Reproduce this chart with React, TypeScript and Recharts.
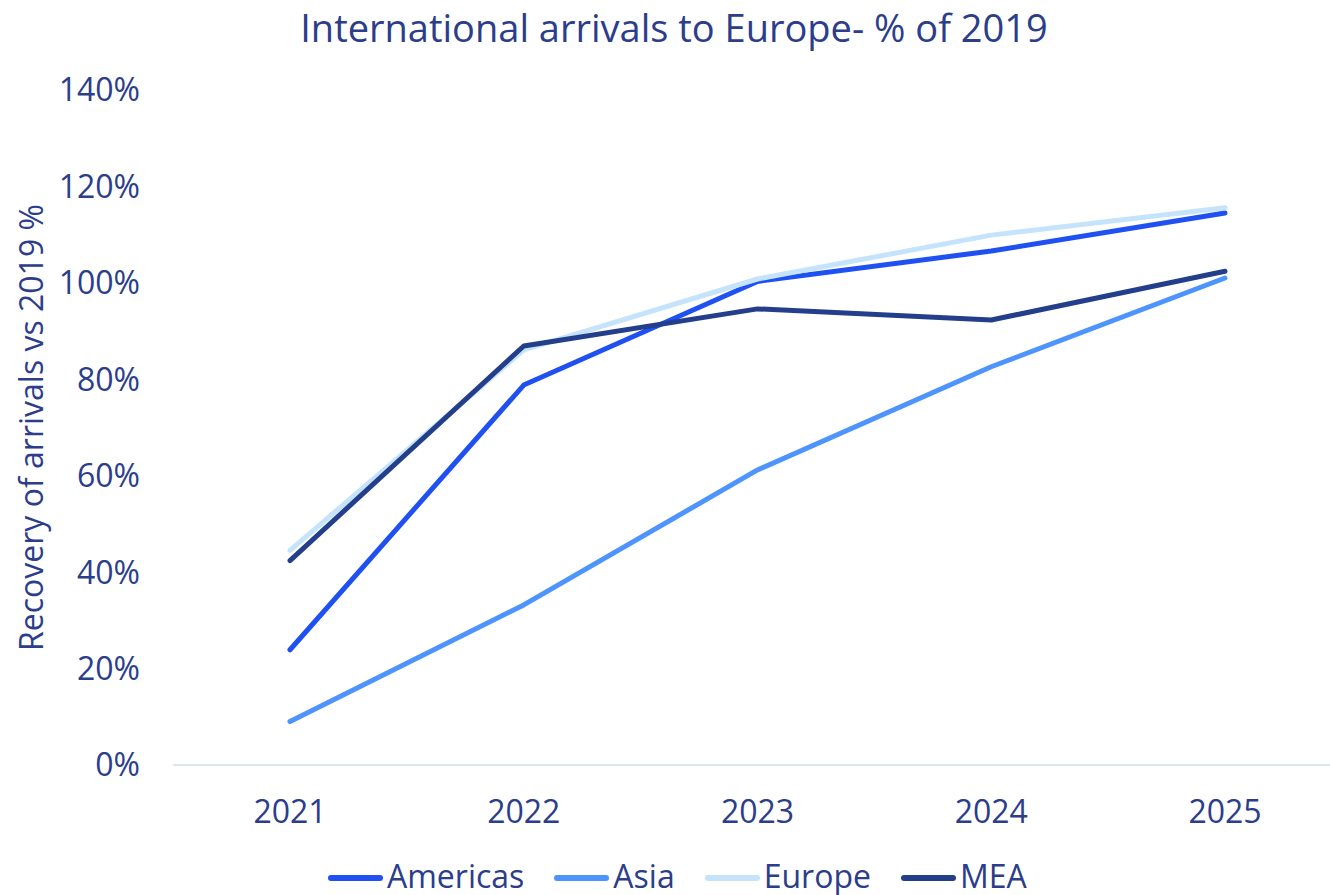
import React from "react";
import { LineChart, Line, XAxis, YAxis } from "recharts";

const years = ["2021", "2022", "2023", "2024", "2025"];
const americas = [23.9, 78.8, 100.3, 106.6, 114.5];
const asia = [9.0, 33.2, 61.2, 82.6, 101.0];
const europe = [44.5, 86.1, 100.8, 109.9, 115.6];
const mea = [42.4, 86.9, 94.6, 92.3, 102.4];
const yTicks = [0, 20, 40, 60, 80, 100, 120, 140];

const series = [
  { key: "Americas", values: americas, color: "#1f50f2" },
  { key: "Asia", values: asia, color: "#4d94ff" },
  { key: "Europe", values: europe, color: "#c5e4fb" },
  { key: "MEA", values: mea, color: "#233f8c" },
];

const data = years.map((year, i) => {
  const row: Record<string, string | number> = { year };
  series.forEach((s) => {
    row[s.key] = s.values[i];
  });
  return row;
});

const TEXT = "#2b3d8b";
const FONT = "'Open Sans', 'Noto Sans', sans-serif";

function YLabel({ viewBox }: any) {
  const cx = 30;
  const cy = viewBox.y + viewBox.height / 2;
  return (
    <text
      x={cx}
      y={cy}
      transform={`rotate(-90, ${cx}, ${cy})`}
      textAnchor="middle"
      dominantBaseline="central"
      fill={TEXT}
      fontSize={32}
      fontFamily={FONT}
    >
      Recovery of arrivals vs 2019 %
    </text>
  );
}

export default function App() {
  return (
    <div
      style={{
        position: "absolute",
        left: 0,
        top: 0,
        width: 1330,
        height: 895,
        overflow: "hidden",
        background: "#fff",
        fontFamily: FONT,
      }}
    >
      <div
        style={{
          position: "absolute",
          left: 9,
          top: 7,
          width: 1330,
          textAlign: "center",
          fontSize: 38,
          lineHeight: "40px",
          color: TEXT,
        }}
      >
        International arrivals to Europe- % of 2019
      </div>
      <LineChart
        width={1345}
        height={895}
        data={data}
        margin={{ top: 90, right: 3, bottom: 70, left: 0 }}
      >
        <XAxis
          dataKey="year"
          height={60}
          padding={{ left: 117, right: 117 }}
          tickLine={false}
          tickSize={0}
          tickMargin={35}
          axisLine={{ stroke: "#dfe3ea", strokeWidth: 2 }}
          tick={{ fill: TEXT, fontSize: 32, fontFamily: FONT }}
        />
        <YAxis
          width={173}
          domain={[0, 140]}
          ticks={yTicks}
          tickFormatter={(v) => `${v}%`}
          axisLine={false}
          tickLine={false}
          tickSize={0}
          tickMargin={33}
          tick={{ fill: TEXT, fontSize: 32, fontFamily: FONT }}
          label={{ content: YLabel }}
        />
        {series.map((s) => (
          <Line
            key={s.key}
            dataKey={s.key}
            type="linear"
            stroke={s.color}
            strokeWidth={5}
            strokeLinecap="round"
            strokeLinejoin="round"
            dot={false}
            activeDot={false}
            isAnimationActive={false}
          />
        ))}
      </LineChart>
      <div
        style={{
          position: "absolute",
          left: 328,
          top: 854,
          height: 44,
          display: "flex",
          alignItems: "center",
          fontSize: 32,
          lineHeight: "44px",
          color: TEXT,
        }}
      >
        {series.map((s) => (
          <div
            key={s.key}
            style={{ display: "flex", alignItems: "center", marginRight: 30 }}
          >
            <span
              style={{
                display: "inline-block",
                width: 55,
                height: 6,
                borderRadius: 3,
                background: s.color,
                marginRight: 4,
                marginTop: 4,
              }}
            />
            <span>{s.key}</span>
          </div>
        ))}
      </div>
    </div>
  );
}
